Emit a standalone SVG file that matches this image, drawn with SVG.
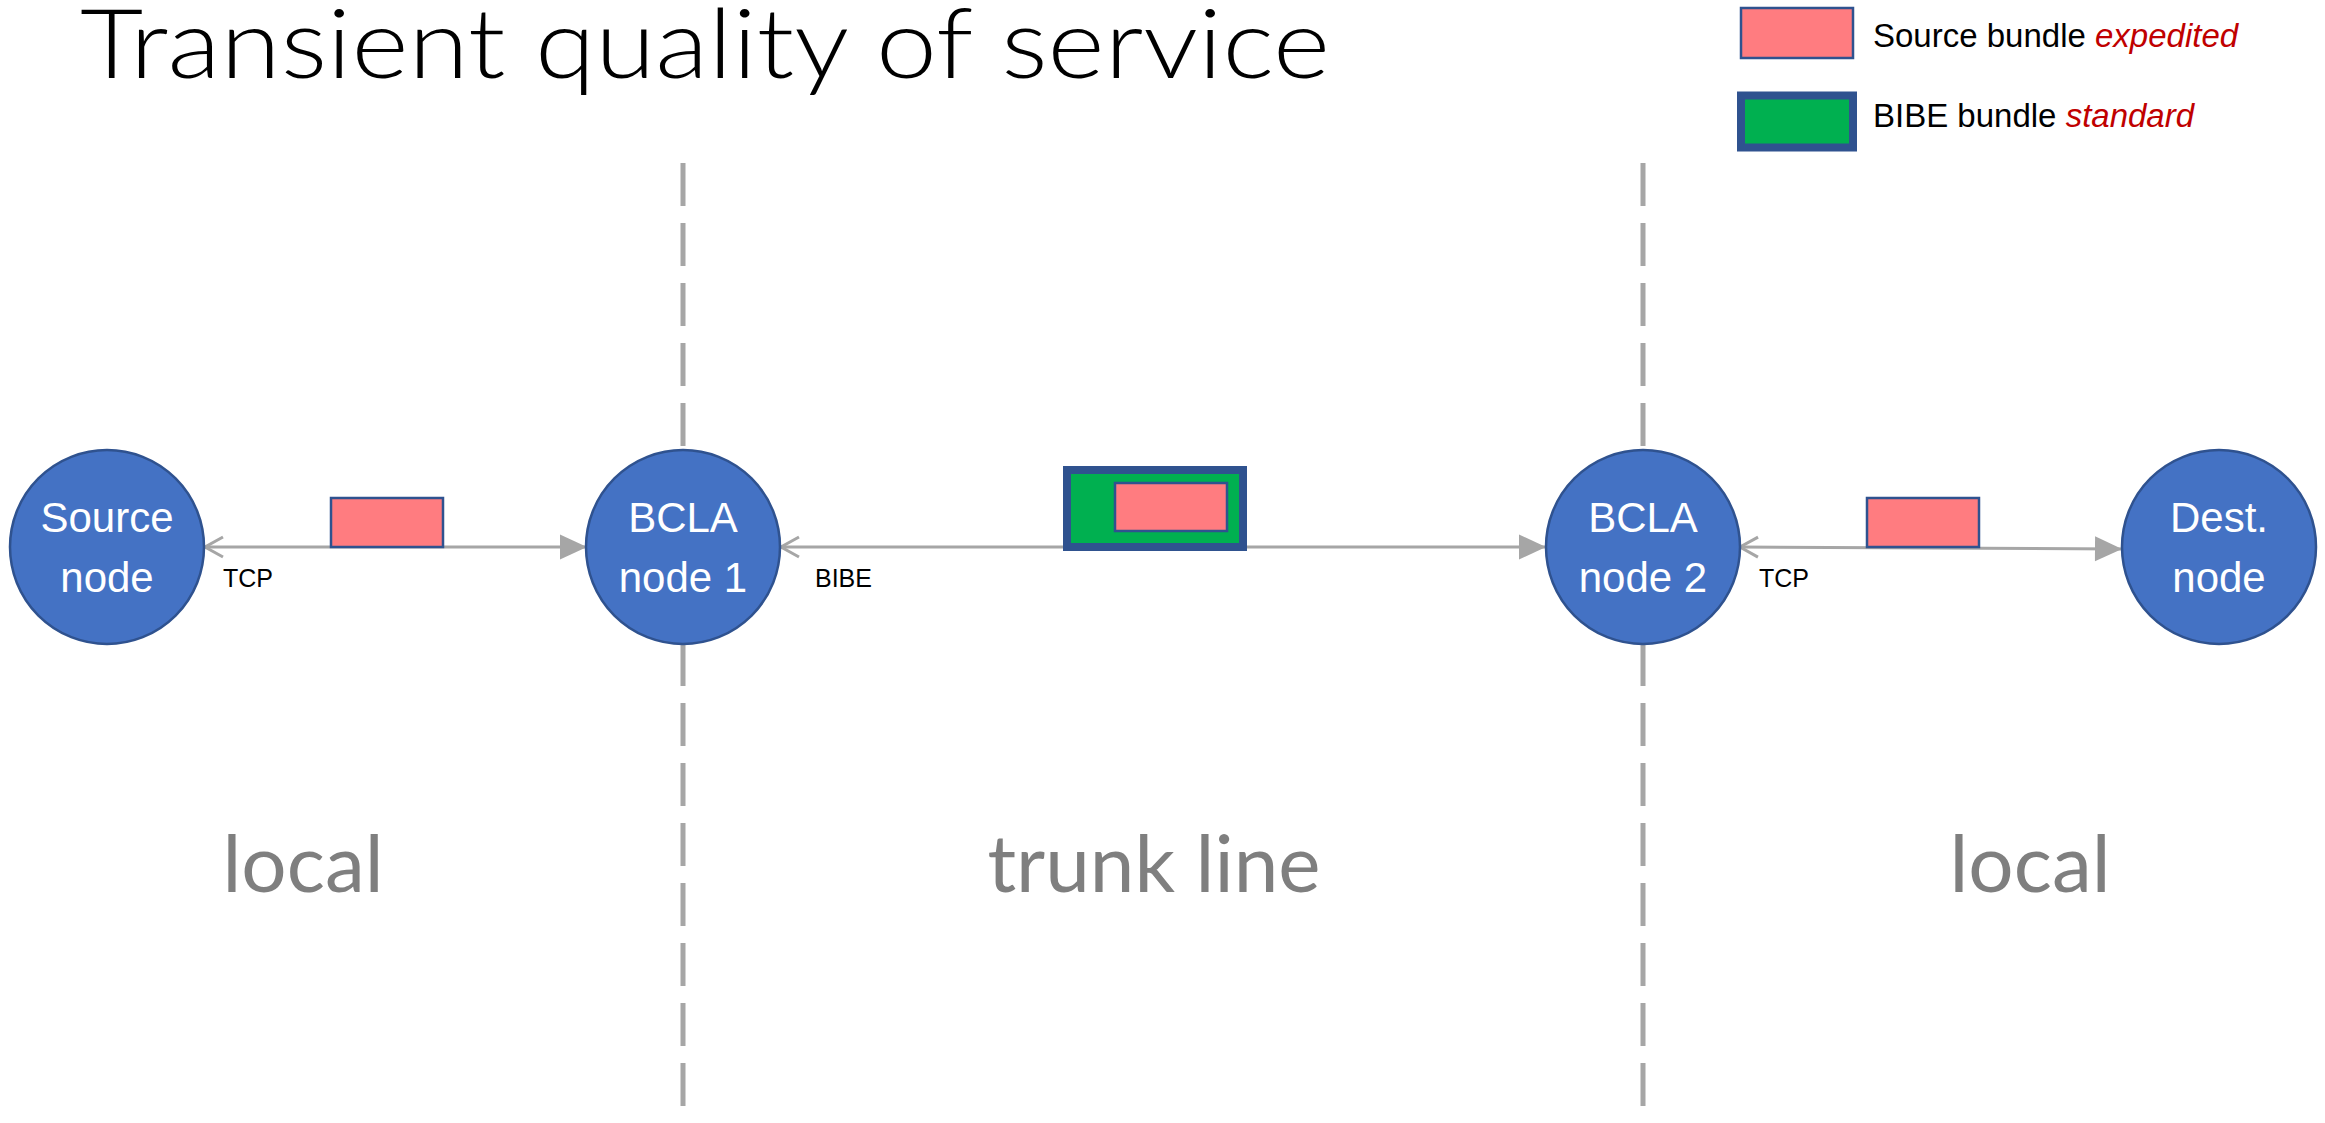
<svg xmlns="http://www.w3.org/2000/svg" width="2325" height="1123" viewBox="0 0 2325 1123">
  <style>
    .node { fill: #4472C4; stroke: #2F528F; stroke-width: 2.5; }
    .ntext { font-family: "Liberation Sans", Arial, sans-serif; font-size: 42px; fill: #FFFFFF; text-anchor: middle; }
    .lbl { font-family: "Liberation Sans", Arial, sans-serif; font-size: 25px; fill: #000000; }
    .zone { font-family: Lato, "Liberation Sans", sans-serif; font-size: 80px; fill: #7F7F7F; text-anchor: middle; }
    .divider { stroke: #A6A6A6; stroke-width: 5; stroke-dasharray: 43 17; fill: none; }
    .conn { stroke: #A6A6A6; stroke-width: 3; fill: none; marker-start: url(#open); marker-end: url(#tri); }
    .src { fill: #FF7C80; stroke: #2F528F; stroke-width: 2.5; }
    .bibe { fill: #00B050; stroke: #2F528F; stroke-width: 8; }
    .leg { font-family: "Liberation Sans", Arial, sans-serif; font-size: 33px; fill: #000000; }
    .em { fill: #C00000; font-style: italic; }
  </style>
  <defs>
    <marker id="tri" markerUnits="userSpaceOnUse" markerWidth="28" markerHeight="26" refX="27" refY="12.5" orient="auto" overflow="visible">
      <path d="M0,0 L27,12.5 L0,25 Z" fill="#A6A6A6"/>
    </marker>
    <marker id="open" markerUnits="userSpaceOnUse" markerWidth="22" markerHeight="24" refX="0" refY="10" orient="auto" overflow="visible">
      <path d="M19,0 L1,10 L19,20" fill="none" stroke="#A6A6A6" stroke-width="3"/>
    </marker>
  </defs>
  <rect width="2325" height="1123" fill="#FFFFFF"/>

  <text id="title" x="80" y="78" font-family="Lato, 'Liberation Sans', sans-serif" font-weight="300" font-size="96" textLength="1250" lengthAdjust="spacingAndGlyphs" fill="#000000">Transient quality of service</text>

  <g id="dividers">
    <line class="divider" x1="683" y1="163" x2="683" y2="1123"/>
    <line class="divider" x1="1643" y1="163" x2="1643" y2="1123"/>
  </g>

  <g id="connectors">
    <line class="conn" x1="204" y1="547" x2="587" y2="547"/>
    <line class="conn" x1="780" y1="547" x2="1546" y2="547"/>
    <line class="conn" x1="1739" y1="547" x2="2122" y2="549"/>
    <text class="lbl" x="223" y="587">TCP</text>
    <text class="lbl" x="815" y="587">BIBE</text>
    <text class="lbl" x="1759" y="587">TCP</text>
  </g>

  <g id="bundles">
    <rect class="src" x="331" y="498" width="112" height="49"/>
    <rect class="bibe" x="1067" y="470" width="176" height="77"/>
    <rect class="src" x="1115" y="483" width="112" height="48"/>
    <rect class="src" x="1867" y="498" width="112" height="49"/>
  </g>

  <g id="source-node">
    <circle class="node" cx="107" cy="547" r="97"/>
    <text class="ntext" x="107" y="532">Source</text>
    <text class="ntext" x="107" y="592">node</text>
  </g>
  <g id="bcla-node-1">
    <circle class="node" cx="683" cy="547" r="97"/>
    <text class="ntext" x="683" y="532">BCLA</text>
    <text class="ntext" x="683" y="592">node 1</text>
  </g>
  <g id="bcla-node-2">
    <circle class="node" cx="1643" cy="547" r="97"/>
    <text class="ntext" x="1643" y="532">BCLA</text>
    <text class="ntext" x="1643" y="592">node 2</text>
  </g>
  <g id="dest-node">
    <circle class="node" cx="2219" cy="547" r="97"/>
    <text class="ntext" x="2219" y="532">Dest.</text>
    <text class="ntext" x="2219" y="592">node</text>
  </g>

  <g id="zones">
    <text class="zone" x="303" y="892">local</text>
    <text class="zone" x="1154" y="892">trunk line</text>
    <text class="zone" x="2030" y="892">local</text>
  </g>

  <g id="legend">
    <rect class="src" x="1741" y="8" width="112" height="50"/>
    <text class="leg" x="1873" y="47">Source bundle <tspan class="em">expedited</tspan></text>
    <rect class="bibe" x="1741" y="95.5" width="112" height="52" stroke-width="7"/>
    <text class="leg" x="1873" y="127">BIBE bundle <tspan class="em">standard</tspan></text>
  </g>
</svg>
